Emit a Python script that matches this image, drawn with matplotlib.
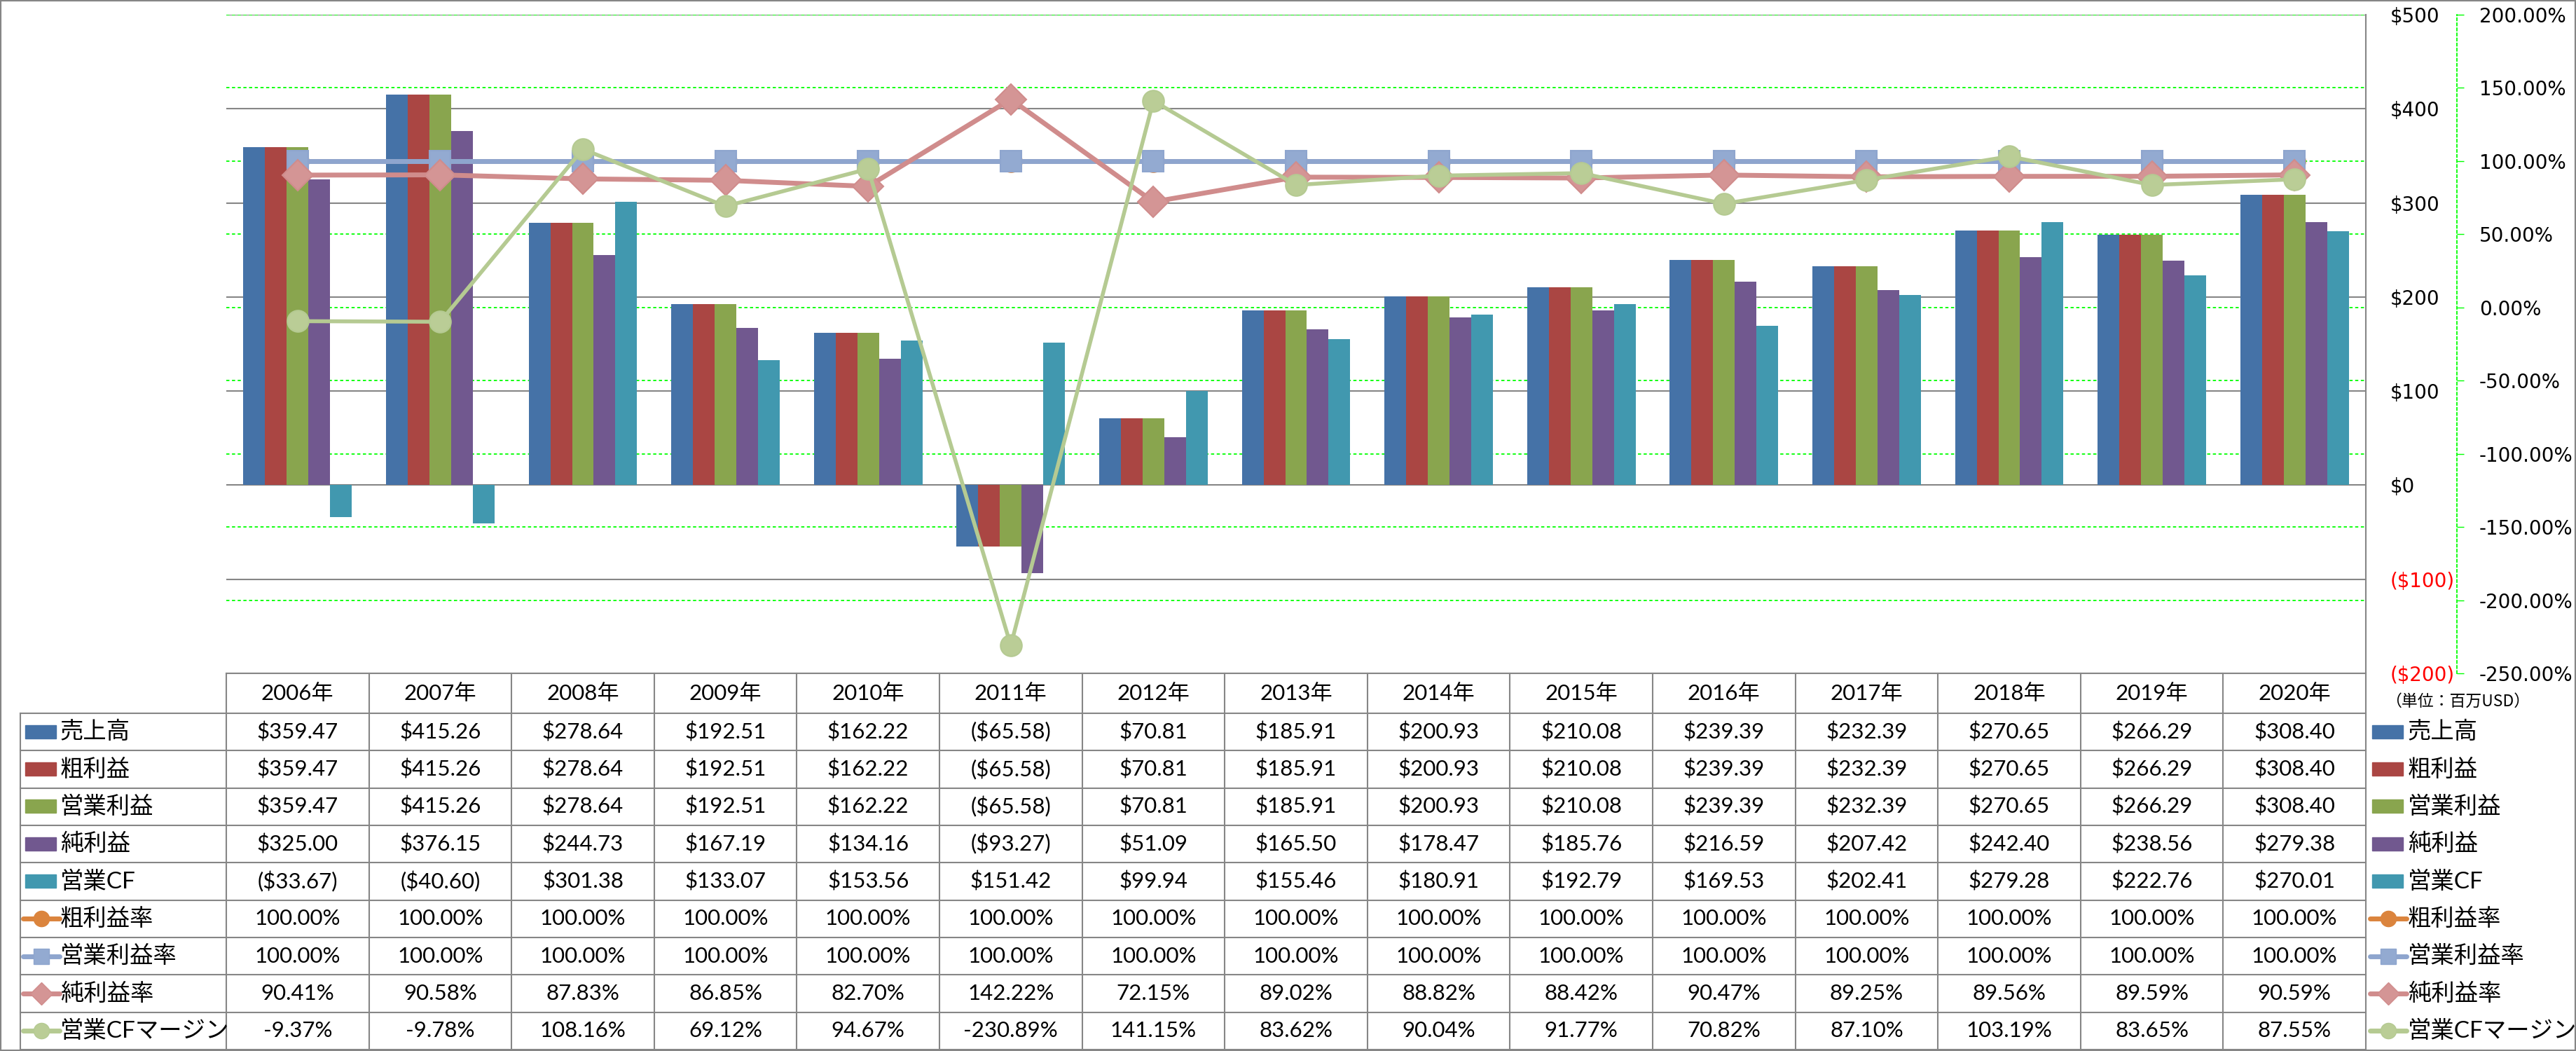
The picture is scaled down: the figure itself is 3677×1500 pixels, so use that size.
import matplotlib
matplotlib.use("Agg")
import matplotlib.pyplot as plt
from matplotlib import transforms
from matplotlib.patches import Rectangle
from matplotlib.lines import Line2D

# data (million USD / %)
years = ["2006年", "2007年", "2008年", "2009年", "2010年", "2011年", "2012年", "2013年",
         "2014年", "2015年", "2016年", "2017年", "2018年", "2019年", "2020年"]
sales = [359.47, 415.26, 278.64, 192.51, 162.22, -65.58, 70.81, 185.91,
         200.93, 210.08, 239.39, 232.39, 270.65, 266.29, 308.40]
gross_profit = [359.47, 415.26, 278.64, 192.51, 162.22, -65.58, 70.81, 185.91,
                200.93, 210.08, 239.39, 232.39, 270.65, 266.29, 308.40]
op_income = [359.47, 415.26, 278.64, 192.51, 162.22, -65.58, 70.81, 185.91,
             200.93, 210.08, 239.39, 232.39, 270.65, 266.29, 308.40]
net_income = [325.00, 376.15, 244.73, 167.19, 134.16, -93.27, 51.09, 165.50,
              178.47, 185.76, 216.59, 207.42, 242.40, 238.56, 279.38]
op_cf = [-33.67, -40.60, 301.38, 133.07, 153.56, 151.42, 99.94, 155.46,
         180.91, 192.79, 169.53, 202.41, 279.28, 222.76, 270.01]
gross_margin = [100.00, 100.00, 100.00, 100.00, 100.00, 100.00, 100.00, 100.00,
                100.00, 100.00, 100.00, 100.00, 100.00, 100.00, 100.00]
op_margin = [100.00, 100.00, 100.00, 100.00, 100.00, 100.00, 100.00, 100.00,
             100.00, 100.00, 100.00, 100.00, 100.00, 100.00, 100.00]
net_margin = [90.41, 90.58, 87.83, 86.85, 82.70, 142.22, 72.15, 89.02,
              88.82, 88.42, 90.47, 89.25, 89.56, 89.59, 90.59]
cf_margin = [-9.37, -9.78, 108.16, 69.12, 94.67, -230.89, 141.15, 83.62,
             90.04, 91.77, 70.82, 87.10, 103.19, 83.65, 87.55]

bar_names = ["売上高", "粗利益", "営業利益", "純利益", "営業CF"]
bar_series = [sales, gross_profit, op_income, net_income, op_cf]
bar_colors = ["#4572A7", "#AA4643", "#89A54E", "#71588F", "#4198AF"]

line_names = ["粗利益率", "営業利益率", "純利益率", "営業CFマージン"]
line_series = [gross_margin, op_margin, net_margin, cf_margin]
line_colors = ["#DB843D", "#8EA5CE", "#D08C8C", "#B5CA92"]
marker_fill = ["#DB843D", "#93AAD1", "#D49595", "#BACD96"]
line_markers = ["o", "s", "D", "o"]
line_widths = [5, 5, 5, 4]

usd_ticks = [-200, -100, 0, 100, 200, 300, 400, 500]
pct_ticks = [-250, -200, -150, -100, -50, 0, 50, 100, 150, 200]

W, H, DPI = 3677, 1500, 100
plt.rcParams["font.family"] = ["DejaVu Sans", "Noto Sans CJK JP"]
tab_font = ["Lato", "Noto Sans CJK JP"]
grey = "#868686"
green = "#00FF00"
red = "#FF0000"


def usd(v):
    return f"${v:,.2f}" if v >= 0 else f"(${-v:,.2f})"


def pct(v):
    return f"{v:.2f}%"


fig = plt.figure(figsize=(W / DPI, H / DPI), dpi=DPI)

# plot area in pixel box
left, top, right, bottom = 323, 21, 3377, 961
ax = fig.add_axes([left / W, 1 - bottom / H, (right - left) / W, (bottom - top) / H])
ax2 = ax.twinx()
ax.yaxis.tick_right()

n = len(years)
x = list(range(n))
bw = 0.152
for i, (vals, col) in enumerate(zip(bar_series, bar_colors)):
    ax.bar([k + (i - 2) * bw for k in x], vals, width=bw, color=col, zorder=2)

for vals, col, mf, mk, lw in zip(line_series, line_colors, marker_fill, line_markers, line_widths):
    ax2.plot(x, vals, color=col, lw=lw, marker=mk, markersize=22,
             markerfacecolor=mf, markeredgecolor=col, markeredgewidth=1.5,
             solid_joinstyle="miter")

ax.set_xlim(-0.5, n - 0.5)
ax.set_ylim(-200, 500)
ax2.set_ylim(-250, 200)

# grey primary gridlines, green dotted secondary gridlines (behind bars)
ax.set_yticks(usd_ticks, labels=[usd(v).replace(".00", "") for v in usd_ticks])
ax.yaxis.grid(True, color=grey, lw=1.5)
ax.set_axisbelow(True)
tr = transforms.blended_transform_factory(ax.transAxes, ax2.transData)
for v in pct_ticks:
    ax.add_line(Line2D([0, 1], [v, v], transform=tr, color=green, lw=1.3,
                       ls=(0, (2.5, 2)), zorder=0.6))

ax.tick_params(axis="x", bottom=False, labelbottom=False)
ax.tick_params(axis="y", length=0, pad=25, labelsize=20)
for lbl, v in zip(ax.get_yticklabels(), usd_ticks):
    lbl.set_color(red if v < 0 else "black")
for s in ["left", "top", "bottom"]:
    ax.spines[s].set_visible(False)
ax.spines["right"].set_color(grey)
ax.spines["right"].set_linewidth(1.5)

ax2.set_yticks(pct_ticks, labels=[pct(v) for v in pct_ticks])
ax2.tick_params(axis="y", length=7, width=1, color=green, pad=16, labelsize=20)
for lbl, v in zip(ax2.get_yticklabels(), pct_ticks):
    lbl.set_color(red if v < 0 else "black")
for s in ["left", "top", "bottom"]:
    ax2.spines[s].set_visible(False)
ax2.spines["right"].set_position(("axes", (3507 - left) / (right - left)))
ax2.spines["right"].set_color(green)
ax2.spines["right"].set_linestyle((0, (2, 2)))
ax2.spines["right"].set_linewidth(1.3)

# data table drawn in pixel coordinates
tab = fig.add_axes([0, 0, 1, 1])
tab.set_xlim(0, W)
tab.set_ylim(H, 0)
tab.axis("off")
tab.patch.set_alpha(0)

col_w = (right - left) / n
head_top, head_bot, tab_bot = 961, 1018, 1498
row_h = (tab_bot - head_bot) / 9
tab_left = 29
lkw = dict(color=grey, lw=1.5)

tab.plot([left, right], [head_top, head_top], **lkw)
for k in range(9 + 1):
    y = head_bot + k * row_h
    tab.plot([tab_left, right], [y, y], **lkw)
tab.plot([tab_left, tab_left], [head_bot, tab_bot], **lkw)
for k in range(n + 1):
    xx = left + k * col_w
    tab.plot([xx, xx], [head_top, tab_bot], **lkw)

for k, yr in enumerate(years):
    tab.text(left + (k + 0.5) * col_w, (head_top + head_bot) / 2, yr,
             ha="center", va="center", fontsize=22.5, family=tab_font)

rows = [(nm, vals, usd) for nm, vals in zip(bar_names, bar_series)] + \
       [(nm, vals, pct) for nm, vals in zip(line_names, line_series)]
for r, (nm, vals, f) in enumerate(rows):
    yc = head_bot + (r + 0.5) * row_h
    for k, v in enumerate(vals):
        tab.text(left + (k + 0.5) * col_w, yc, f(v), ha="center", va="center",
                 fontsize=22.5, family=tab_font)

# legend keys (left column and right side)
entries = [("bar", nm, c, None, None) for nm, c in zip(bar_names, bar_colors)] + \
          [("line", nm, c, mf, mk) for nm, c, mf, mk in
           zip(line_names, line_colors, marker_fill, line_markers)]
for x0, x1, tx in [(34, 80, 86), (3384, 3430, 3437)]:
    for r, (kind, nm, c, mf, mk) in enumerate(entries):
        yc = head_bot + (r + 0.5) * row_h
        if kind == "bar":
            tab.add_patch(Rectangle((x0 + 2, yc - 10), x1 - x0 - 2, 19, color=c))
        else:
            tab.plot([x0 - 1, x1 + 5], [yc, yc], color=c, lw=5,
                     solid_capstyle="round")
            tab.plot([(x0 + x1 + 4) / 2], [yc], marker=mk, markersize=16,
                     color=c, markerfacecolor=mf)
        tab.text(tx, yc, nm, ha="left", va="center", fontsize=24, family=tab_font)

tab.text(3405, 1001, "（単位：百万USD）", ha="left", va="center", fontsize=16.5,
         family=["Noto Sans CJK JP"])

fig.add_artist(Rectangle((0, 0), 1, 1, transform=fig.transFigure, fill=False,
                         ec=grey, lw=3))

fig.savefig("out.png", dpi=DPI)
